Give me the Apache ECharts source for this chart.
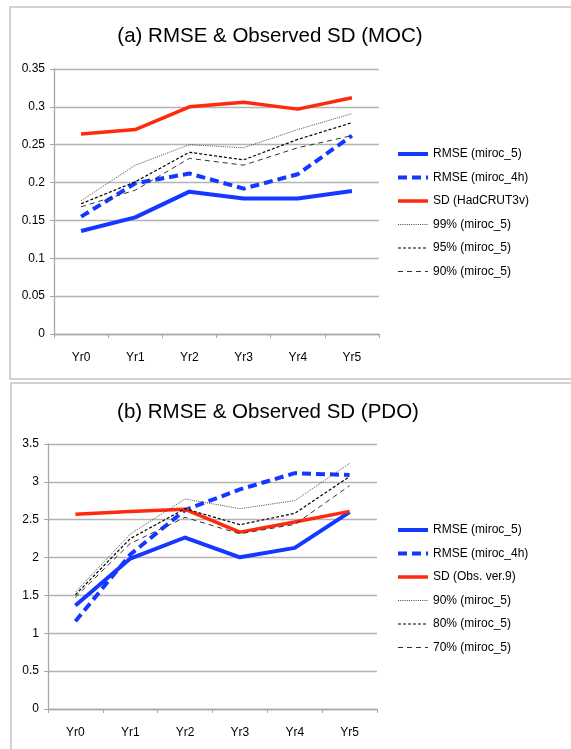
<!DOCTYPE html>
<html>
<head>
<meta charset="utf-8">
<script src="https://cdn.jsdelivr.net/npm/echarts@6/dist/echarts.min.js"></script>
<style>
  html, body { margin: 0; padding: 0; background: #fff; }
  #chartA { position: absolute; left: 0; top: 0; width: 571px; height: 381px; }
  #chartB { position: absolute; left: 0; top: 381px; width: 571px; height: 368px; }
</style>
</head>
<body>
<div id="chartA"></div>
<div id="chartB"></div>
<script>
// 数据
var years = ['Yr0', 'Yr1', 'Yr2', 'Yr3', 'Yr4', 'Yr5'];

// (a) MOC
var mocRmse5  = [0.136, 0.154, 0.188, 0.179, 0.179, 0.189];
var mocRmse4h = [0.155, 0.199, 0.212, 0.192, 0.211, 0.262];
var mocSd     = [0.264, 0.270, 0.300, 0.306, 0.297, 0.312];
var moc99     = [0.176, 0.223, 0.250, 0.246, 0.270, 0.291];
var moc95     = [0.172, 0.201, 0.240, 0.230, 0.257, 0.279];
var moc90     = [0.168, 0.190, 0.232, 0.223, 0.246, 0.262];

// (b) PDO
var pdoRmse5  = [1.367, 1.987, 2.265, 2.004, 2.128, 2.600];
var pdoRmse4h = [1.159, 2.040, 2.628, 2.900, 3.115, 3.090];
var pdoSd     = [2.571, 2.610, 2.637, 2.336, 2.470, 2.610];
var pdo90     = [1.544, 2.310, 2.774, 2.646, 2.752, 3.243];
var pdo80     = [1.509, 2.250, 2.646, 2.434, 2.584, 3.070];
var pdo70     = [1.478, 2.186, 2.531, 2.314, 2.438, 2.950];

var BLUE = '#1438ff';
var RED = '#ff2a0c';
var GRID = '#b4b4b4';
var FONT = "'Liberation Sans', Arial, sans-serif";

function line(name, data, color, width, type) {
    return {
        name: name,
        type: 'line',
        data: data,
        symbol: 'none',
        silent: true,
        lineStyle: { color: color, width: width, type: type, join: 'round' },
        itemStyle: { color: color }
    };
}

function buildOption(cfg) {
    return {
        animation: false,
        backgroundColor: '#fff',
        textStyle: { fontFamily: FONT },
        graphic: [{
            type: 'rect',
            shape: cfg.frame,
            style: { fill: 'none', stroke: '#c4c4c4', lineWidth: 1.5 }
        }],
        title: {
            text: cfg.title,
            left: cfg.titleX,
            top: cfg.titleTop,
            textAlign: 'center',
            padding: 0,
            textStyle: {
                fontFamily: FONT,
                fontSize: 20.5,
                fontWeight: 'normal',
                color: '#000'
            }
        },
        legend: {
            orient: 'vertical',
            left: 396,
            top: cfg.legendTop,
            padding: 0,
            itemWidth: 30,
            itemHeight: 14,
            itemGap: 11.5,
            itemStyle: { opacity: 0 },
            textStyle: { fontSize: 12, color: '#000', fontFamily: FONT },
            data: cfg.series.map(function (s) {
                return { name: s.name, lineStyle: { width: s.lineStyle.width } };
            })
        },
        grid: cfg.grid,
        xAxis: {
            type: 'category',
            data: years,
            boundaryGap: true,
            axisLine: { lineStyle: { color: '#a8a8a8', width: 1.3 } },
            axisTick: { show: true, length: 4, lineStyle: { color: '#a8a8a8' } },
            axisLabel: { margin: 18, fontSize: 12, color: '#000' }
        },
        yAxis: {
            type: 'value',
            min: 0,
            max: cfg.yMax,
            interval: cfg.yStep,
            axisLine: { show: true, lineStyle: { color: '#a8a8a8', width: 1.3 } },
            axisTick: { show: true, length: 4, lineStyle: { color: '#a8a8a8' } },
            axisLabel: { margin: 9, fontSize: 12, color: '#000' },
            splitLine: { lineStyle: { color: GRID, width: 1.3 } }
        },
        series: cfg.series
    };
}

var chartA = echarts.init(document.getElementById('chartA'));
chartA.setOption(buildOption({
    title: '(a) RMSE & Observed SD (MOC)',
    titleX: 270,
    titleTop: 26,
    legendTop: 148,
    frame: { x: 10, y: 7, width: 620, height: 372 },
    grid: { left: 54, top: 69, width: 325, height: 265 },
    yMax: 0.35,
    yStep: 0.05,
    series: [
        line('RMSE (miroc_5)', mocRmse5, BLUE, 4, 'solid'),
        line('RMSE (miroc_4h)', mocRmse4h, BLUE, 4, [9, 5]),
        line('SD (HadCRUT3v)', mocSd, RED, 3.5, 'solid'),
        line('99% (miroc_5)', moc99, '#333', 0.9, [1, 1.2]),
        line('95% (miroc_5)', moc95, '#000', 1.2, [3, 2]),
        line('90% (miroc_5)', moc90, '#333', 1, [5, 4])
    ]
}));

var chartB = echarts.init(document.getElementById('chartB'));
chartB.setOption(buildOption({
    title: '(b) RMSE & Observed SD (PDO)',
    titleX: 268,
    titleTop: 21,
    legendTop: 143,
    frame: { x: 11, y: 2, width: 620, height: 420 },
    grid: { left: 48, top: 63, width: 329, height: 265 },
    yMax: 3.5,
    yStep: 0.5,
    series: [
        line('RMSE (miroc_5)', pdoRmse5, BLUE, 4, 'solid'),
        line('RMSE (miroc_4h)', pdoRmse4h, BLUE, 4, [9, 5]),
        line('SD (Obs. ver.9)', pdoSd, RED, 3.5, 'solid'),
        line('90% (miroc_5)', pdo90, '#333', 0.9, [1, 1.2]),
        line('80% (miroc_5)', pdo80, '#000', 1.2, [3, 2]),
        line('70% (miroc_5)', pdo70, '#333', 1, [5, 4])
    ]
}));
</script>
</body>
</html>
